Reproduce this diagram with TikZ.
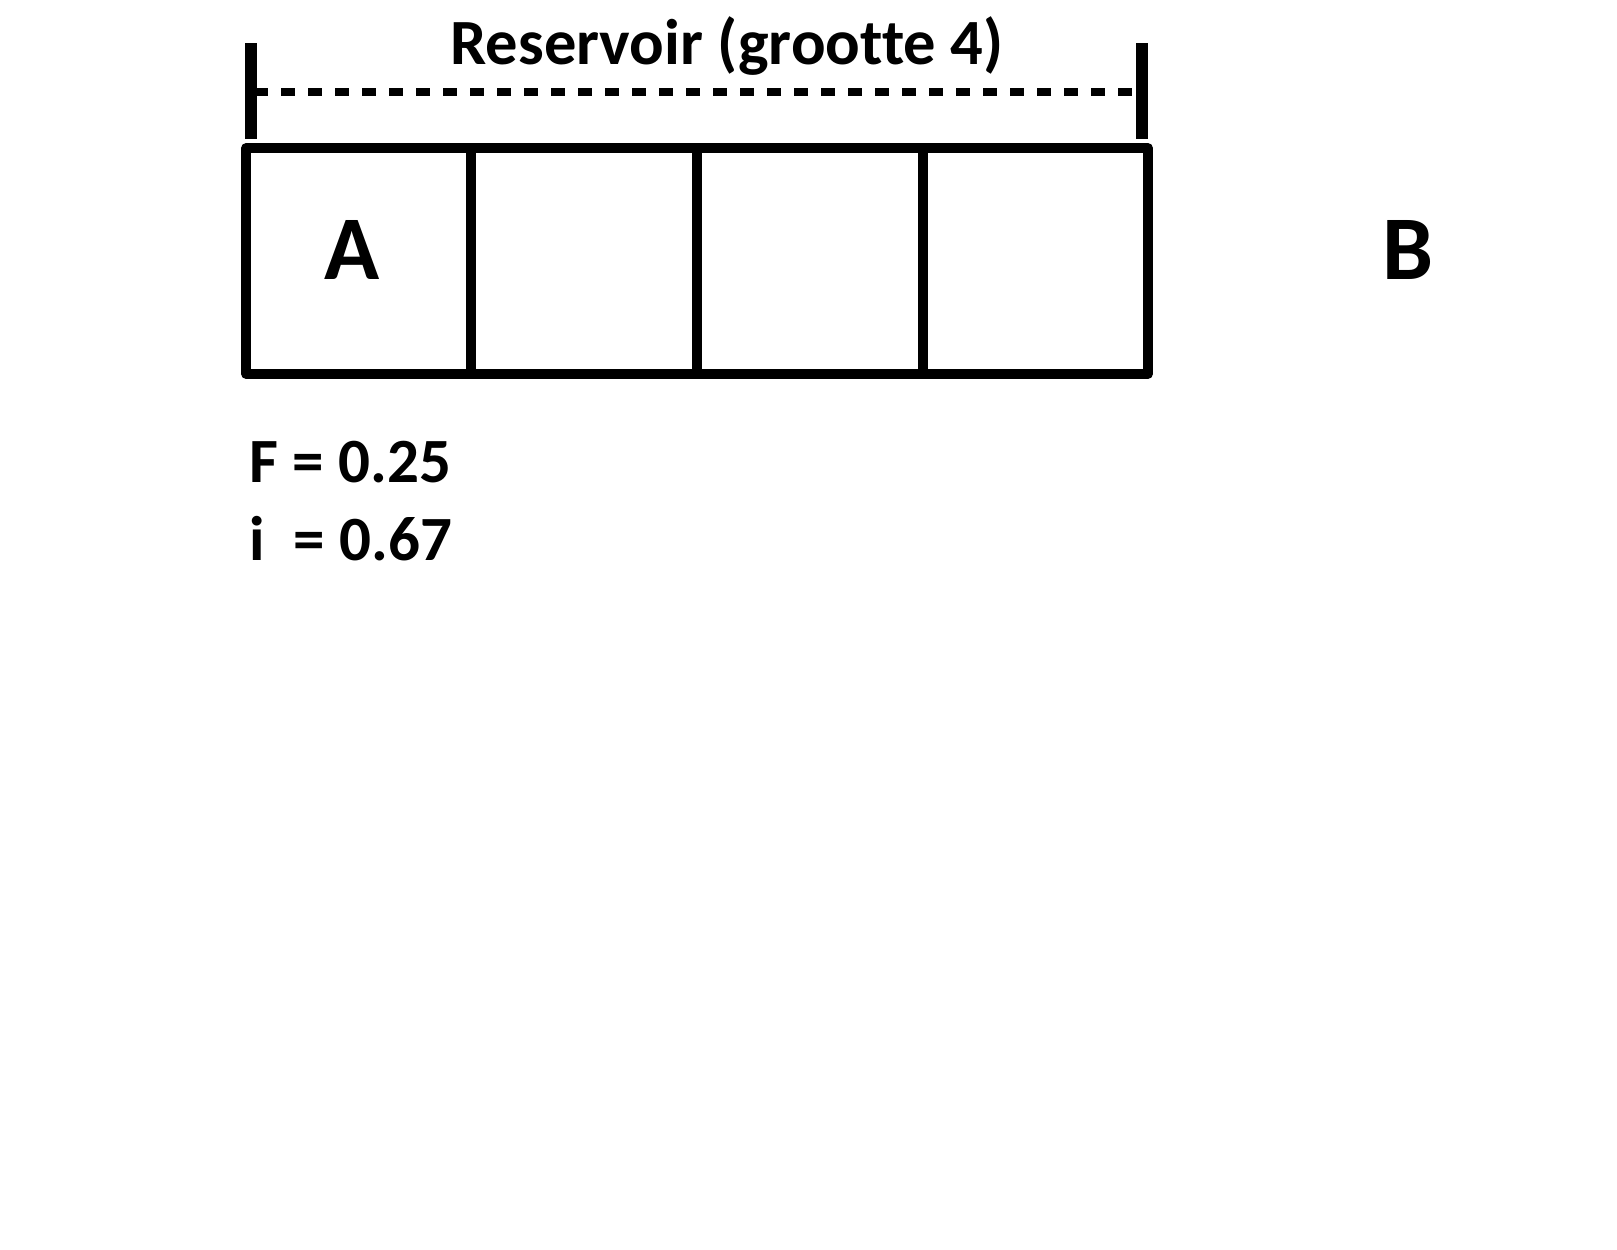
\documentclass[tikz,border=0pt]{standalone}
\usepackage{fontspec}
\setmainfont{Carlito}[Ligatures=NoCommon]
\usetikzlibrary{positioning}

\begin{document}
\begin{tikzpicture}[x=1pt,y=-1pt,line width=9.5pt,line join=round]
  \useasboundingbox (0,0) rectangle (1617,1250);
  \draw (246,148) rectangle (1148,374);
  \foreach \xx in {471,697,923}
    \draw (\xx,148) -- (\xx,374);
  \draw[line width=12.5pt] (251,43) -- (251,139);
  \draw[line width=12.5pt] (1142,43) -- (1142,139);
  \draw[line width=8pt,dash pattern=on 13.5pt off 13.5pt,dash phase=-3pt] (251,92) -- (1142,92);
  \node[anchor=base,font=\bfseries\fontsize{64.5}{78}\selectfont] (titel) at (727,64) {Reservoir (grootte 4)};
  \node[anchor=base,font=\bfseries\fontsize{91}{105}\selectfont] (vakA) at (352,279) {A};
  \node[anchor=base,font=\bfseries\fontsize{91}{105}\selectfont] (punB) at (1408,279) {B};
  \node[anchor=base west,inner sep=0pt,font=\bfseries\fontsize{63}{75}\selectfont] (regF) at (245,482) {F = 0.25};
  \node[anchor=base west,inner sep=0pt,font=\bfseries\fontsize{63}{75}\selectfont] (regi) at (245,560) {i\ \ = 0.67};
\end{tikzpicture}
\end{document}
